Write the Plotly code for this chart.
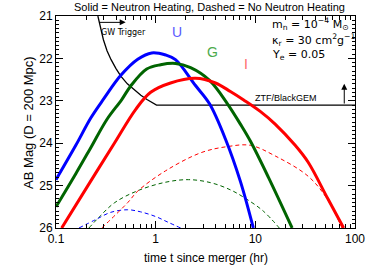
import math
import plotly.graph_objects as go

# ---- data ----
blue_t   = [0.1, 0.158, 0.224, 0.302, 0.447, 0.661, 0.912, 1.26, 1.58, 2.51, 3.47, 5.01, 7.08, 9.55]
blue_mag = [24.86, 24.05, 23.4, 22.95, 22.4, 22.02, 21.87, 21.92, 22.03, 22.64, 23.07, 23.9, 24.9, 26.0]

green_t   = [0.1, 0.158, 0.224, 0.324, 0.457, 0.562, 0.813, 1.12, 1.58, 2.24, 3.47, 5.25, 7.08, 8.91, 13.5, 23.4]
green_mag = [25.5, 24.72, 24.1, 23.44, 22.97, 22.65, 22.25, 22.15, 22.12, 22.22, 22.52, 23.07, 23.55, 23.95, 24.8, 26.0]

red_t   = [0.114, 0.209, 0.385, 0.631, 0.891, 1.41, 2.51, 3.98, 5.62, 7.64, 11.2, 15.8, 25.1, 33.9, 53.1, 76.9]
red_mag = [26.0, 25.0, 24.0, 23.2, 22.8, 22.58, 22.47, 22.58, 22.78, 22.98, 23.25, 23.55, 24.05, 24.45, 25.3, 26.0]

blue_nh_t   = [0.17, 0.251, 0.355, 0.525, 0.708, 1.0, 1.32, 1.78]
blue_nh_mag = [26.0, 25.8, 25.63, 25.57, 25.62, 25.73, 25.86, 26.0]

green_nh_t   = [0.214, 0.282, 0.389, 0.661, 1.26, 2.14, 3.55, 5.62, 7.94, 12.0, 17.4]
green_nh_mag = [26.0, 25.7, 25.4, 25.12, 24.92, 24.86, 24.93, 25.1, 25.3, 25.6, 26.0]

red_nh_t   = [0.288, 0.525, 0.661, 1.26, 2.88, 5.25, 8.91, 15.8, 33.9, 53.1, 74.1]
red_nh_mag = [26.0, 25.4, 25.13, 24.65, 24.22, 24.08, 24.05, 24.3, 24.78, 25.33, 26.0]

limit_t   = [0.263, 0.28, 0.299, 0.325, 0.357, 0.40, 0.447, 0.52, 0.611, 0.71, 0.818, 0.92, 1.02, 100.0]
limit_mag = [21.0, 21.3, 21.56, 21.82, 22.03, 22.24, 22.42, 22.6, 22.74, 22.87, 22.97, 23.04, 23.1, 23.1]

x_tickvals = [0.1, 1, 10, 100]
x_ticktext = ["0.1", "1", "10", "100"]
y_tickvals = [21, 22, 23, 24, 25, 26]

FONT = "Liberation Sans"
WIDE = "DejaVu Sans"

fig = go.Figure()

def add(t, m, color, width, dash=None):
    fig.add_trace(go.Scatter(x=t, y=m, mode="lines",
                             line=dict(color=color, width=width, dash=dash,
                                       shape="spline", smoothing=1.0),
                             showlegend=False, hoverinfo="skip"))

add(blue_nh_t, blue_nh_mag, "#0000ff", 1, "4px,3px")
add(green_nh_t, green_nh_mag, "#006400", 1, "4px,3px")
add(red_nh_t, red_nh_mag, "#ff0000", 1, "4px,3px")
fig.add_trace(go.Scatter(x=limit_t, y=limit_mag, mode="lines",
                         line=dict(color="black", width=1.3),
                         showlegend=False, hoverinfo="skip"))
add(blue_t, blue_mag, "#0000ff", 3)
add(green_t, green_mag, "#006400", 3)
add(red_t, red_mag, "#ff0000", 3)

L = math.log10

ann = []
# GW trigger arrow
ann.append(dict(x=L(0.50), y=21.15, ax=L(0.263), ay=21.15, xref="x", yref="y",
                axref="x", ayref="y", text="", showarrow=True, arrowhead=2,
                arrowsize=1.2, arrowwidth=1, arrowcolor="black"))
ann.append(dict(x=L(0.473), y=21.4, xref="x", yref="y", text="GW Trigger",
                showarrow=False, font=dict(size=8, color="black", family=WIDE)))
# ZTF arrow
ann.append(dict(x=L(78), y=22.6, ax=L(78), ay=23.1, xref="x", yref="y",
                axref="x", ayref="y", text="", showarrow=True, arrowhead=2,
                arrowsize=1.2, arrowwidth=1, arrowcolor="black"))
ann.append(dict(x=L(20.5), y=22.93, xref="x", yref="y", text="ZTF/BlackGEM",
                showarrow=False, font=dict(size=9, color="black", family=FONT)))
# band labels
ann.append(dict(x=L(1.62), y=21.38, xref="x", yref="y", text="U", showarrow=False,
                font=dict(size=14, color="#5a5aff", family=FONT)))
ann.append(dict(x=L(3.7), y=21.85, xref="x", yref="y", text="G", showarrow=False,
                font=dict(size=14, color="#4caa4c", family=FONT)))
ann.append(dict(x=L(8.0), y=22.13, xref="x", yref="y", text="I", showarrow=False,
                font=dict(size=14, color="#ff6a6a", family=FONT)))
# parameter text
params = ["m<sub>n</sub> = 10<sup>−4</sup> M<sub>⊙</sub>",
          "κ<sub>r</sub> = 30 cm<sup>2</sup>g<sup>−1</sup>",
          "Y<sub>e</sub> = 0.05"]
for txt, yy in zip(params, [21.2, 21.56, 21.93]):
    ann.append(dict(x=L(14.0), y=yy, xref="x", yref="y", text=txt, showarrow=False,
                    xanchor="left", font=dict(size=11, color="black", family=WIDE)))
# axis titles
ann.append(dict(x=0.5, y=-0.141, xref="paper", yref="paper", text="time t since merger (hr)",
                showarrow=False, yanchor="middle", font=dict(size=12, color="black", family=FONT)))
ann.append(dict(x=-0.094, y=0.5, xref="paper", yref="paper", text="AB Mag (D = 200 Mpc)",
                showarrow=False, textangle=-90, xanchor="center", yanchor="middle",
                font=dict(size=13, color="black", family=FONT)))

fig.update_layout(
    width=374, height=267,
    margin=dict(l=56, r=9, t=15, b=39),
    paper_bgcolor="white", plot_bgcolor="white",
    title=dict(text="Solid = Neutron Heating, Dashed = No Neutron Heating",
               x=0.56, xanchor="center", y=1 - 7 / 267, yanchor="middle", yref="container",
               font=dict(size=11, color="black", family=FONT)),
    annotations=ann,
    xaxis=dict(type="log", range=[-1, 2], tickvals=x_tickvals, ticktext=x_ticktext,
               ticks="inside", ticklen=7, tickcolor="black", tickwidth=1,
               showline=True, linecolor="black", linewidth=1, mirror="allticks",
               showgrid=False, zeroline=False, ticklabeloverflow="allow",
               tickfont=dict(size=12, color="black", family=FONT),
               minor=dict(ticks="inside", ticklen=4, tickcolor="black", dtick="D1", showgrid=False)),
    yaxis=dict(range=[26, 21], tickvals=y_tickvals,
               ticks="inside", ticklen=7, tickcolor="black", tickwidth=1,
               showline=True, linecolor="black", linewidth=1, mirror="allticks",
               showgrid=False, zeroline=False,
               tickfont=dict(size=12, color="black", family=FONT),
               minor=dict(ticks="inside", ticklen=3, tickcolor="black", dtick=0.1, showgrid=False)),
)

fig.write_html("out.html", config={"displayModeBar": False},
               post_script="document.body.style.margin='0';")
